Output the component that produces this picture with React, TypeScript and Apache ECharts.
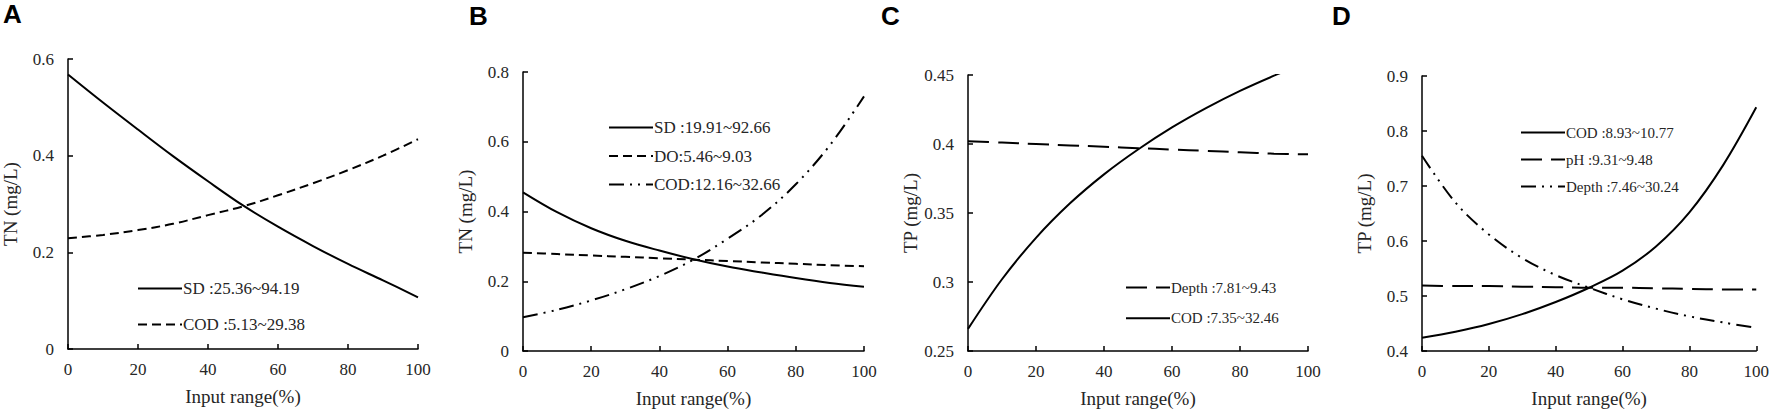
import React, { useEffect, useRef } from "react";
import * as echarts from "echarts";

const xs = [0, 10, 20, 30, 40, 50, 60, 70, 80, 90, 100];

// Panel A (TN)
const aSD = [0.568, 0.51, 0.454, 0.399, 0.347, 0.297, 0.253, 0.213, 0.176, 0.142, 0.107];
const aCOD = [0.229, 0.236, 0.246, 0.259, 0.277, 0.295, 0.318, 0.343, 0.37, 0.4, 0.434];
// Panel B (TN)
const bSD = [0.455, 0.398, 0.352, 0.316, 0.288, 0.263, 0.242, 0.225, 0.209, 0.195, 0.184];
const bDO = [0.282, 0.278, 0.274, 0.27, 0.266, 0.262, 0.258, 0.254, 0.25, 0.246, 0.243];
const bCOD = [0.097, 0.118, 0.145, 0.177, 0.215, 0.262, 0.322, 0.39, 0.478, 0.59, 0.73];
// Panel C (TP)
const cDepth = [0.402, 0.401, 0.4, 0.399, 0.398, 0.397, 0.396, 0.395, 0.394, 0.393, 0.3925];
const cCOD = [0.266, 0.302, 0.332, 0.357, 0.378, 0.396, 0.412, 0.426, 0.4385, 0.4495, 0.4595];
// Panel D (TP)
const dCOD = [0.424, 0.435, 0.449, 0.467, 0.489, 0.515, 0.546, 0.59, 0.652, 0.737, 0.843];
const dPH = [0.519, 0.518, 0.518, 0.517, 0.516, 0.515, 0.515, 0.514, 0.513, 0.512, 0.512];
const dDepth = [0.755, 0.67, 0.612, 0.569, 0.538, 0.515, 0.494, 0.477, 0.463, 0.452, 0.442];

const panelLetters = ["A", "B", "C", "D"];
const yNames = ["TN (mg/L)", "TN (mg/L)", "TP (mg/L)", "TP (mg/L)"];
const xName = "Input range(%)";
const yRanges = [
  [0, 0.6, 0.2],
  [0, 0.8, 0.2],
  [0.25, 0.45, 0.05],
  [0.4, 0.9, 0.1],
];

const SERIF = "'Liberation Serif', 'Times New Roman', serif";
const TXT = "#262626";

const SOLID = "solid";
const SHORT_DASH = [9, 5];
const LONG_DASH = [21, 9];
const DASH_DOT_DOT = [15, 6, 2, 6, 2, 6];

type S = { name: string; data: number[]; dash: any; panel: number };

const seriesDefs: S[] = [
  { name: "SD :25.36~94.19", data: aSD, dash: SOLID, panel: 0 },
  { name: "COD :5.13~29.38", data: aCOD, dash: SHORT_DASH, panel: 0 },
  { name: "SD :19.91~92.66", data: bSD, dash: SOLID, panel: 1 },
  { name: "DO:5.46~9.03", data: bDO, dash: SHORT_DASH, panel: 1 },
  { name: "COD:12.16~32.66", data: bCOD, dash: DASH_DOT_DOT, panel: 1 },
  { name: "Depth :7.81~9.43", data: cDepth, dash: LONG_DASH, panel: 2 },
  { name: "COD :7.35~32.46", data: cCOD, dash: SOLID, panel: 2 },
  { name: "COD :8.93~10.77", data: dCOD, dash: SOLID, panel: 3 },
  { name: "pH :9.31~9.48", data: dPH, dash: LONG_DASH, panel: 3 },
  { name: "Depth :7.46~30.24", data: dDepth, dash: DASH_DOT_DOT, panel: 3 },
];

const grids = [
  { left: 67, top: 59, width: 351, height: 290 },
  { left: 523, top: 72, width: 341, height: 281 },
  { left: 968, top: 75, width: 340, height: 283 },
  { left: 1422, top: 76, width: 337, height: 284 },
];

const legendPos = [
  { left: 137, top: 280, gap: 33, font: 17 },
  { left: 608, top: 119, gap: 25.5, font: 17 },
  { left: 1125, top: 280, gap: 29.7, font: 15 },
  { left: 1520, top: 125, gap: 26, font: 15 },
];

const letterPos = [
  { x: 3, y: 1 },
  { x: 469, y: 3 },
  { x: 881, y: 3 },
  { x: 1332, y: 3 },
];

export default function App() {
  const ref = useRef<HTMLDivElement>(null);
  useEffect(() => {
    if (!ref.current) return;
    const chart = echarts.init(ref.current, null, { renderer: "svg" });
    const option: any = {
      animation: false,
      backgroundColor: "#ffffff",
      grid: grids.map((g) => ({ ...g, containLabel: false })),
      xAxis: grids.map((_, i) => ({
        type: "value",
        gridIndex: i,
        min: 0,
        max: 100,
        interval: 20,
        name: xName,
        nameLocation: "middle",
        nameGap: 38,
        nameTextStyle: { fontFamily: SERIF, fontSize: 19, color: TXT },
        axisLine: { show: true, lineStyle: { color: "#000", width: 1.5 } },
        axisTick: { show: true, inside: true, length: 5, lineStyle: { color: "#000", width: 1.5 } },
        axisLabel: { fontFamily: SERIF, fontSize: 17, color: TXT, margin: 12 },
        splitLine: { show: false },
      })),
      yAxis: grids.map((_, i) => ({
        type: "value",
        gridIndex: i,
        min: yRanges[i][0],
        max: yRanges[i][1],
        interval: yRanges[i][2],
        name: yNames[i],
        nameLocation: "middle",
        nameGap: 48,
        nameTextStyle: { fontFamily: SERIF, fontSize: 19, color: TXT },
        axisLine: { show: true, lineStyle: { color: "#000", width: 1.5 } },
        axisTick: { show: true, inside: true, length: 5, lineStyle: { color: "#000", width: 1.5 } },
        axisLabel: { fontFamily: SERIF, fontSize: 17, color: TXT, margin: 14 },
        splitLine: { show: false },
      })),
      legend: legendPos.map((lp, i) => ({
        orient: "vertical",
        left: lp.left,
        top: lp.top,
        padding: 0,
        itemWidth: 44,
        itemHeight: 14,
        itemGap: lp.gap - 14,
        selectedMode: false,
        itemStyle: { opacity: 0, borderWidth: 0 },
        textStyle: { fontFamily: SERIF, fontSize: lp.font, color: TXT, lineHeight: 14, padding: [0, 0, 0, -4] },
        data: seriesDefs.filter((s) => s.panel === i).map((s) => s.name),
      })),
      series: seriesDefs.map((s) => ({
        type: "line",
        name: s.name,
        xAxisIndex: s.panel,
        yAxisIndex: s.panel,
        data: xs.map((x, k) => [x, s.data[k]]),
        smooth: 0.35,
        symbol: "none",
        clip: true,
        color: "#000",
        lineStyle: { color: "#000", width: 2, type: s.dash },
        itemStyle: { color: "#000" },
      })),
      graphic: panelLetters.map((t, i) => ({
        type: "text",
        x: letterPos[i].x,
        y: letterPos[i].y,
        style: {
          text: t,
          fontFamily: "'Liberation Sans', Arial, sans-serif",
          fontWeight: "bold",
          fontSize: 26,
          fill: "#000",
          textVerticalAlign: "top",
        },
      })),
    };
    chart.setOption(option);
    return () => chart.dispose();
  }, []);
  return (
    <div
      ref={ref}
      style={{ position: "absolute", left: 0, top: 0, width: 1772, height: 413, background: "#fff" }}
    />
  );
}
